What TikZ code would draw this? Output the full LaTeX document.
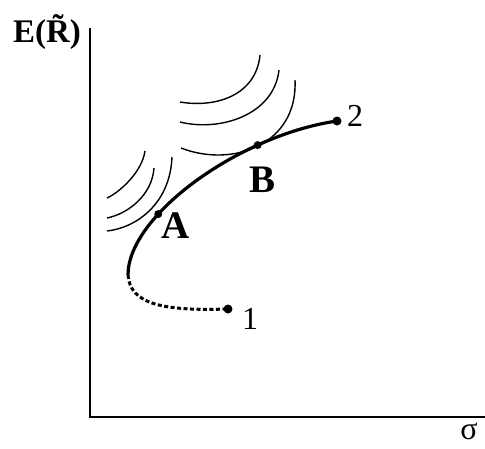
\documentclass[tikz,border=0pt]{standalone}
\usepackage{fontspec}
\setmainfont{Liberation Serif}
\usetikzlibrary{positioning}

\begin{document}
\begin{tikzpicture}[
    x=1pt, y=-1pt,
    axis/.style={line width=1.8pt},
    frontier/.style={line width=3.2pt},
    lowpart/.style={line width=3pt, dash pattern=on 4pt off 2.5pt},
    indiff/.style={line width=1.4pt},
    dot/.style={circle, fill, inner sep=0pt, minimum size=9pt},
    lbl/.style={font=\fontsize{32}{32}\selectfont, inner sep=0pt},
    ptlbl/.style={font=\fontsize{39}{39}\selectfont\bfseries, inner sep=0pt},
    axlbl/.style={font=\fontsize{33}{33}\selectfont\bfseries, inner sep=0pt}
]
\useasboundingbox (0,0) rectangle (485,448);

% ============================================================
% 1. AXES
% ============================================================
\coordinate (ytop)   at (90,28);
\coordinate (origin) at (90,417);
\coordinate (xend)   at (485,417);
\draw[axis] (ytop) -- (origin) -- (xend);

\node[axlbl] (ylab) at (47,32) {E(\~{R})};
\node[lbl]   (xlab) at (469,431) {σ};

% ============================================================
% 2. FRONTIER
% ============================================================
\coordinate (turn) at (128,275);
\coordinate (pt1)  at (228,309);
\coordinate (pt2)  at (337,121);

\draw[frontier] (turn) .. controls (128,215) and (240,135) .. (pt2)
    node[dot, pos=0.32, minimum size=8pt] (dotA) {}
    node[dot, pos=0.73, minimum size=8pt] (dotB) {};
\draw[lowpart] (turn) .. controls (130,305) and (165,311) .. (pt1);

\node[dot] (dot1) at (pt1) {};
\node[dot] (dot2) at (pt2) {};

\node[lbl] (lab1) at (250,319) {1};
\node[lbl] (lab2) at (355,116) {2};
\node[ptlbl] (labA) at (176,226) {A};
\node[ptlbl] (labB) at (263,180) {B};

% ============================================================
% 3. INDIFFERENCE CURVES
% ============================================================
% near A
\draw[indiff] (107,198) .. controls (120,192) and (142,172) .. (145,151);
\draw[indiff] (107,218) .. controls (127,214) and (152,196) .. (154,168);
\draw[indiff] (107,231) .. controls (135,228) and (170,205) .. (172,157);
% near B
\draw[indiff] (180,102) .. controls (215,108) and (256,96)  .. (260,55);
\draw[indiff] (180,122) .. controls (220,132) and (274,115) .. (279,70);
\draw[indiff] (181,148) .. controls (232,168) and (298,145) .. (295,80);

\end{tikzpicture}
\end{document}
